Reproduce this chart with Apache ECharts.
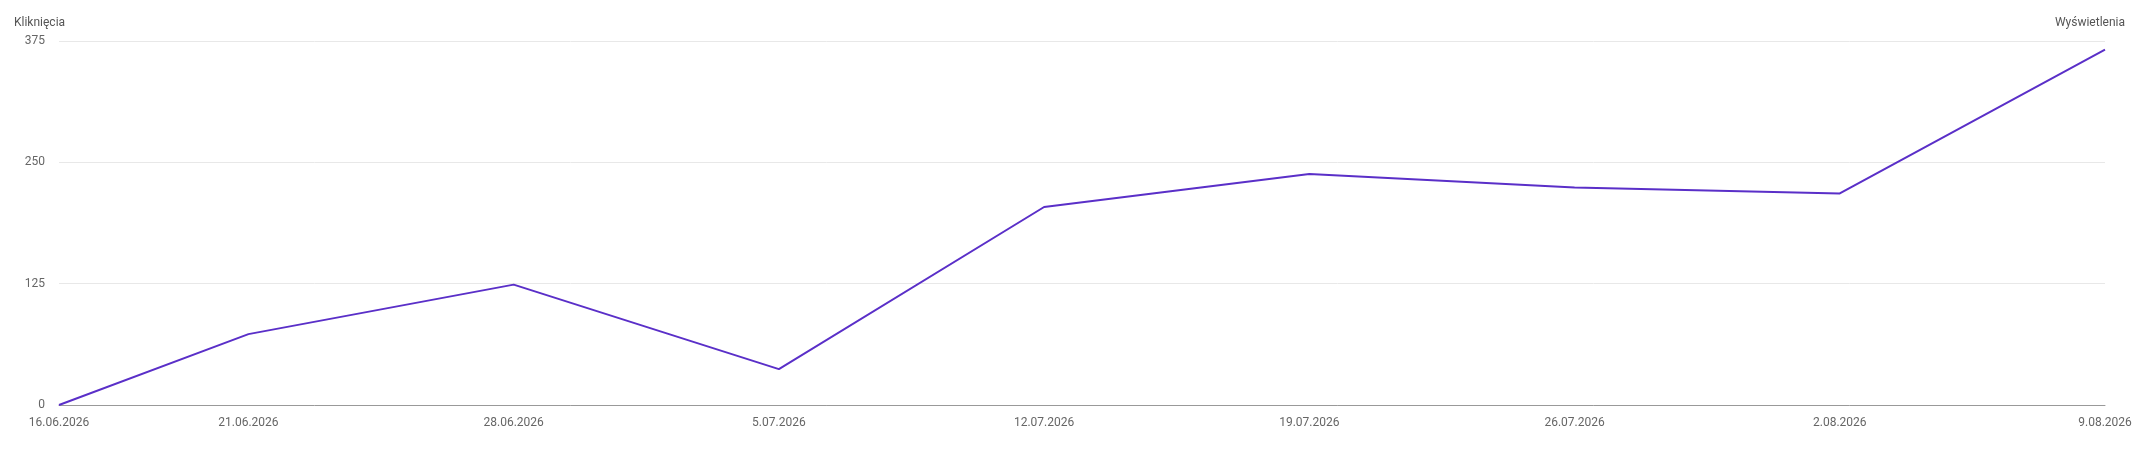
<!DOCTYPE html><html><head><meta charset="utf-8"><script src="https://cdn.jsdelivr.net/npm/echarts@6/dist/echarts.min.js"></script></head><body style="margin:0"><div id="c" style="width:2140px;height:454px"></div><script>
const pointDates=["16.06.2026","21.06.2026","28.06.2026","5.07.2026","12.07.2026","19.07.2026","26.07.2026","2.08.2026","9.08.2026"];
const clicks=[0,73,124,37,204,238,224,218,366];
const yTicks=[0,125,250,375];
// build full daily category list
const days=[];const vals=[];
let d=new Date(2026,5,16);const end=new Date(2026,7,9);
while(d<=end){const s=d.getDate()+"."+String(d.getMonth()+1).padStart(2,"0")+"."+d.getFullYear();days.push(s);const i=pointDates.indexOf(s);vals.push(i>=0?clicks[i]:null);d.setDate(d.getDate()+1);}
const c=echarts.init(document.getElementById('c'));
c.setOption({animation:false,textStyle:{fontFamily:'Roboto'},
grid:{left:59,right:35,top:41,bottom:49},
xAxis:{type:'category',data:days,boundaryGap:false,axisTick:{show:false},axisLine:{lineStyle:{color:'#999'}},
axisLabel:{interval:(i,v)=>pointDates.includes(v),color:'#666',fontSize:12,margin:12,showMaxLabel:true,showMinLabel:true}},
yAxis:[{type:'value',min:yTicks[0],max:yTicks[3],interval:125,name:'Kliknięcia',nameLocation:'end',nameGap:12,nameTextStyle:{color:'#555',fontSize:12,align:'left',padding:[0,0,0,-45]},
axisLabel:{color:'#666',fontSize:12,margin:14},splitLine:{lineStyle:{color:'#e8e8e8'}}},
{type:'value',min:0,max:375,interval:125,name:'Wyświetlenia',nameTextStyle:{color:'#555',fontSize:12,align:'right',padding:[0,-20,0,0]},nameGap:12,axisLabel:{show:false},splitLine:{show:false},axisLine:{show:false},axisTick:{show:false}}],
series:[{type:'line',data:vals,connectNulls:true,showSymbol:false,lineStyle:{color:'#5a2fc8',width:2},itemStyle:{color:'#5a2fc8'}}]});
</script></body></html>
